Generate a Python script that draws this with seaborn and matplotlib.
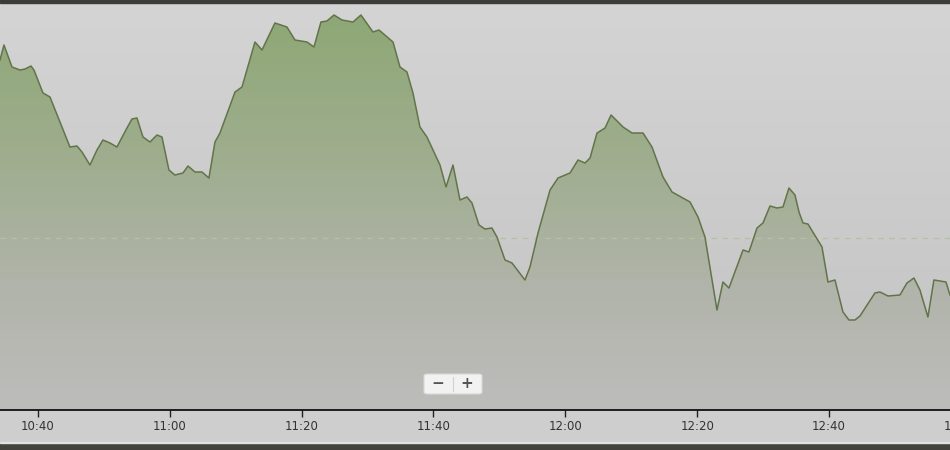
import numpy as np
import pandas as pd
import matplotlib
matplotlib.use("Agg")
import matplotlib.pyplot as plt
from matplotlib.colors import LinearSegmentedColormap
from matplotlib.patches import FancyBboxPatch, Rectangle
import seaborn as sns

# minutes after 10:40 and the level
minutes = [
    -5.76, -5.16, -3.94, -2.73, -1.97, -1.06, -0.61, 0.76, 1.82, 3.64,
    4.85, 5.92, 6.68, 7.89, 8.95, 9.86, 10.92, 11.98, 13.50, 14.26,
    15.02, 15.93, 16.99, 18.05, 18.81, 19.87, 20.78, 22.00, 22.76, 23.82,
    24.88, 25.94, 26.85, 27.61, 29.89, 30.95, 32.92, 33.98, 35.95, 37.77,
    38.99, 40.81, 41.87, 42.93, 43.84, 44.91, 46.12, 47.79, 49.00, 50.82,
    51.73, 53.86, 54.92, 55.98, 56.89, 57.95, 59.01, 60.99, 61.90, 62.96,
    64.02, 65.08, 65.84, 66.90, 67.81, 68.87, 69.63, 70.85, 71.91, 73.88,
    74.64, 75.86, 77.68, 78.89, 80.71, 81.93, 82.99, 83.75, 84.81, 86.03,
    86.94, 88.76, 90.12, 91.18, 91.79, 93.15, 94.82, 96.19, 98.92, 100.13,
    101.19, 103.01, 103.92, 104.83, 106.96, 107.86, 109.08, 109.99, 111.05, 112.11,
    113.02, 113.93, 114.84, 115.45, 116.06, 116.81, 118.94, 119.85, 120.91, 122.12,
    123.03, 123.94, 124.70, 126.97, 127.73, 128.95, 130.77, 131.83, 132.89, 133.80,
    135.01, 135.92, 137.75, 138.36,
]
level = [
    35.0, 36.5, 34.3, 34.0, 34.1, 34.4, 34.0, 31.7, 31.3, 28.3,
    26.3, 26.4, 25.8, 24.5, 26.0, 27.0, 26.7, 26.3, 28.2, 29.1,
    29.2, 27.3, 26.8, 27.5, 27.3, 24.0, 23.5, 23.7, 24.4, 23.8,
    23.8, 23.2, 26.8, 27.7, 31.8, 32.3, 36.8, 36.0, 38.7, 38.3,
    37.0, 36.8, 36.3, 38.8, 38.9, 39.5, 39.0, 38.8, 39.5, 37.8,
    38.0, 36.8, 34.3, 33.8, 31.7, 28.3, 27.3, 24.5, 22.3, 24.5,
    21.0, 21.3, 20.7, 18.5, 18.1, 18.2, 17.3, 15.0, 14.7, 13.0,
    14.3, 17.7, 22.0, 23.2, 23.7, 25.0, 24.7, 25.2, 27.7, 28.2,
    29.5, 28.3, 27.7, 27.7, 27.7, 26.3, 23.3, 21.8, 20.8, 19.3,
    17.3, 10.0, 12.8, 12.2, 16.0, 15.8, 18.2, 18.7, 20.4, 20.2,
    20.3, 22.2, 21.5, 19.8, 18.7, 18.6, 16.3, 12.8, 13.0, 9.8,
    9.0, 9.0, 9.4, 11.7, 11.8, 11.4, 11.5, 12.7, 13.2, 12.0,
    9.3, 13.0, 12.8, 11.5,
]
reference_level = 17.2
tick_labels = ["10:40", "11:00", "11:20", "11:40", "12:00", "12:20", "12:40", "13:00"]

start = pd.Timestamp("2024-01-01 10:40")
df = pd.DataFrame({
    "time": start + pd.to_timedelta(minutes, unit="min"),
    "level": level,
})
tick_times = [pd.Timestamp("2024-01-01 " + t) for t in tick_labels]

fig = plt.figure(figsize=(9.5, 4.5), dpi=100)
fig.patch.set_facecolor("#cecece")
ax = fig.add_axes([0, 40 / 450, 1, 407 / 450])

xmin = start + pd.Timedelta(minutes=minutes[0])
xmax = start + pd.Timedelta(minutes=minutes[-1])
ax.set_xlim(xmin, xmax)
ax.set_ylim(0, 40.7)

# background gradient of the plot area
bg = LinearSegmentedColormap.from_list("bg", ["#c3c3c3", "#d4d4d4"])
ax.imshow(np.linspace(0, 1, 256).reshape(-1, 1), cmap=bg, origin="lower",
          extent=[0, 1, 0, 1], transform=ax.transAxes, aspect="auto", zorder=0)

# filled area with green-to-grey gradient
poly = ax.fill_between(df["time"], df["level"], 0, color="none", zorder=1)
fillcm = LinearSegmentedColormap.from_list(
    "fill", [(0, "#bdbdbb"), (0.3, "#b1b4aa"), (0.6, "#a0ae90"), (1, "#8ca773")])
grad = ax.imshow(np.linspace(0, 1, 256).reshape(-1, 1), cmap=fillcm, origin="lower",
                 extent=[0, 1, 0, 1], transform=ax.transAxes, aspect="auto", zorder=1)
grad.set_clip_path(poly.get_paths()[0], transform=ax.transData)

ax.axhline(reference_level, color="#b5c1a7", lw=1, ls=(0, (4, 4)), zorder=2)

sns.lineplot(data=df, x="time", y="level", ax=ax, color="#627449", lw=1.1, zorder=3)

ax.set_xticks(tick_times[:-1])
ax.set_xticklabels(tick_labels[:-1])
ax.tick_params(axis="x", direction="out", length=5, width=1, color="#222222",
               labelsize=8.5, labelcolor="#333333", pad=2)
# last tick label sits past the right edge and is cut by the frame, as in the original
ax.annotate(tick_labels[-1], xy=(tick_times[-1], 0), xycoords=("data", "axes fraction"),
            xytext=(0, -7), textcoords="offset points", ha="center", va="top",
            fontsize=8.5, color="#333333", annotation_clip=False)
ax.set_yticks([])
ax.set_xlabel("")
ax.set_ylabel("")
for side in ["top", "left", "right"]:
    ax.spines[side].set_visible(False)
ax.spines["bottom"].set_color("#111111")
ax.spines["bottom"].set_linewidth(1.3)

# dark frame bars
fig.patches.append(Rectangle((0, 447 / 450), 1, 3 / 450, transform=fig.transFigure,
                             color="#3e3c38", zorder=10))
fig.patches.append(Rectangle((0, 0), 1, 7 / 450, transform=fig.transFigure,
                             color="#45433e", zorder=10))
fig.patches.append(Rectangle((0, 7 / 450), 1, 1 / 450, transform=fig.transFigure,
                             color="#e2e2e2", zorder=10))

# zoom control
fig.patches.append(FancyBboxPatch((424 / 950, (450 - 394) / 450), 58 / 950, 20 / 450,
                                  boxstyle="round,pad=0,rounding_size=0.004",
                                  transform=fig.transFigure, facecolor="#f2f2f2",
                                  edgecolor="#d8d8d8", lw=0.8, zorder=11))
fig.lines.append(plt.Line2D([453 / 950, 453 / 950], [(450 - 391) / 450, (450 - 377) / 450],
                            transform=fig.transFigure, color="#d0d0d0", lw=0.8, zorder=12))
fig.text(438 / 950, (450 - 383.5) / 450, "−", ha="center", va="center",
         fontsize=11, fontweight="bold", color="#555555", zorder=12)
fig.text(467 / 950, (450 - 383.5) / 450, "+", ha="center", va="center",
         fontsize=11, fontweight="bold", color="#555555", zorder=12)

fig.savefig("out.png", dpi=100)
